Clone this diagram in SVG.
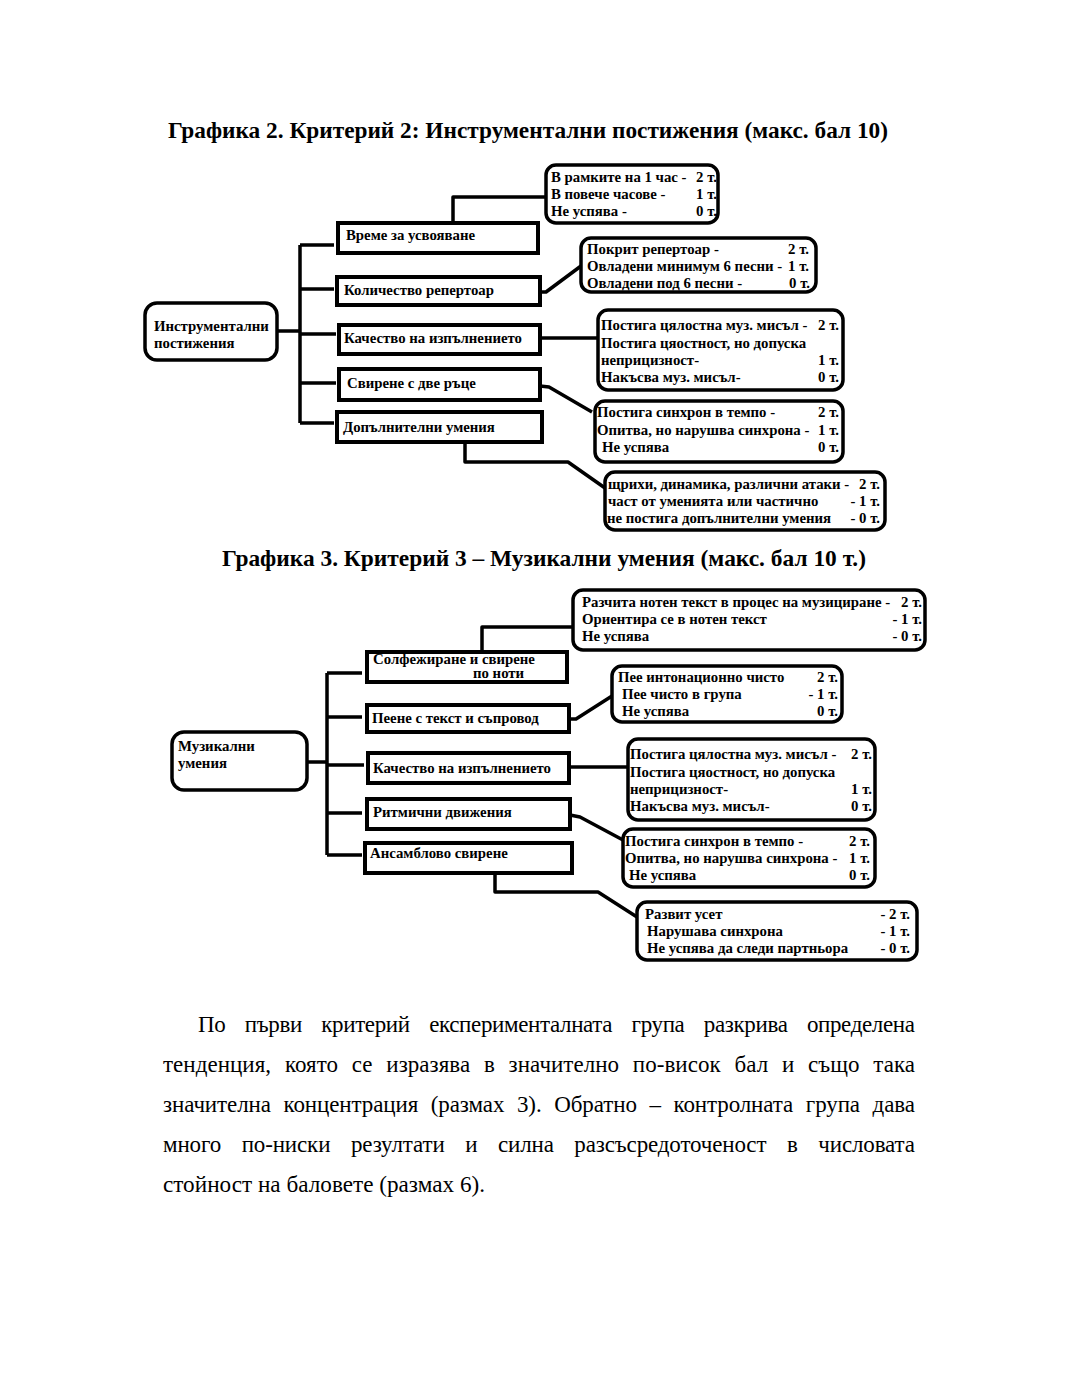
<svg xmlns="http://www.w3.org/2000/svg" width="1080" height="1397" viewBox="0 0 1080 1397">
<style>
.t{font-family:"Liberation Serif","Times New Roman",serif;font-weight:bold;fill:#000}
.title{font-size:23px}
.n{font-size:14.8px}
.e{text-anchor:end}
.p{font-family:"Liberation Serif","Times New Roman",serif;font-size:23px;fill:#000}
.box{fill:#fff;stroke:#000;stroke-width:4}
.rbox{fill:#fff;stroke:#000;stroke-width:3.5}
.c{fill:none;stroke:#000;stroke-width:3.5;stroke-linejoin:round}
</style>
<rect width="1080" height="1397" fill="#fff"/>
<text class="t title" x="168" y="138" textLength="720" lengthAdjust="spacingAndGlyphs">Графика 2. Критерий 2: Инструментални постижения (макс. бал 10)</text>
<text class="t title" x="222" y="566" textLength="644" lengthAdjust="spacingAndGlyphs">Графика 3. Критерий 3 – Музикални умения (макс. бал 10 т.)</text>

<g id="connectors1">
<path class="c" d="M278,331 H300 M300,245 V423 M300,245 H334 M300,289 H334 M300,334 H336 M300,383 H336 M300,423 H334"/>
<path class="c" d="M453,223 V197 H545"/>
<path class="c" d="M540,292 H546 L581,266"/>
<path class="c" d="M540,338 H598"/>
<path class="c" d="M540,386 L549,387 L592,412"/>
<path class="c" d="M465,442 V462 H568 L605,488"/>
</g>

<g id="root1"><rect class="rbox" x="145" y="303" width="132" height="57" rx="12"/>
<text class="t n" x="154" y="331">Инструментални</text><text class="t n" x="154" y="348">постижения</text></g>

<g id="c1a"><rect class="box" x="338" y="223" width="200" height="30"/><text class="t n" x="346" y="240">Време за усвояване</text></g>
<g id="c1b"><rect class="box" x="337" y="277" width="203" height="28"/><text class="t n" x="344" y="295">Количество репертоар</text></g>
<g id="c1c"><rect class="box" x="339" y="325" width="201" height="29"/><text class="t n" x="344" y="343">Качество на изпълнението</text></g>
<g id="c1d"><rect class="box" x="339" y="369" width="201" height="31"/><text class="t n" x="347" y="388">Свирене с две ръце</text></g>
<g id="c1e"><rect class="box" x="337" y="412" width="205" height="30"/><text class="t n" x="343" y="432">Допълнителни умения</text></g>

<g id="r1a"><rect class="rbox" x="546" y="165" width="172" height="58" rx="10"/>
<text class="t n" x="551" y="182">В рамките на 1 час -</text><text class="t n e" x="717" y="182">2 т.</text>
<text class="t n" x="551" y="199">В повече часове -</text><text class="t n e" x="717" y="199">1 т.</text>
<text class="t n" x="551" y="216">Не успява -</text><text class="t n e" x="717" y="216">0 т.</text></g>

<g id="r1b"><rect class="rbox" x="581" y="238" width="235" height="54" rx="10"/>
<text class="t n" x="587" y="254">Покрит репертоар -</text><text class="t n e" x="809" y="254">2 т.</text>
<text class="t n" x="587" y="271">Овладени минимум 6 песни -</text><text class="t n e" x="809" y="271">1 т.</text>
<text class="t n" x="587" y="288">Овладени под 6 песни -</text><text class="t n e" x="810" y="288">0 т.</text></g>

<g id="r1c"><rect class="rbox" x="598" y="310" width="245" height="80" rx="10"/>
<text class="t n" x="601" y="330">Постига цялостна муз. мисъл -</text><text class="t n e" x="839" y="330">2 т.</text>
<text class="t n" x="601" y="348">Постига цяостност, но допуска</text>
<text class="t n" x="601" y="365">неприцизност-</text><text class="t n e" x="839" y="365">1 т.</text>
<text class="t n" x="601" y="382">Накъсва муз. мисъл-</text><text class="t n e" x="839" y="382">0 т.</text></g>

<g id="r1d"><rect class="rbox" x="595" y="401" width="248" height="61" rx="10"/>
<text class="t n" x="597" y="417">Постига синхрон в темпо -</text><text class="t n e" x="839" y="417">2 т.</text>
<text class="t n" x="597" y="435">Опитва, но нарушва синхрона -</text><text class="t n e" x="839" y="435">1 т.</text>
<text class="t n" x="602" y="452">Не успява</text><text class="t n e" x="839" y="452">0 т.</text></g>

<g id="r1e"><rect class="rbox" x="605" y="472" width="280" height="58" rx="10"/>
<text class="t n" x="608" y="489">щрихи, динамика, различни атаки -</text><text class="t n e" x="880" y="489">2 т.</text>
<text class="t n" x="608" y="506">част от уменията или частично</text><text class="t n e" x="880" y="506">- 1 т.</text>
<text class="t n" x="607" y="523">не постига допълнителни умения</text><text class="t n e" x="880" y="523">-  0 т.</text></g>

<g id="connectors2">
<path class="c" d="M307,762 H327 M327,673 V855 M327,673 H362 M327,717 H362 M327,765 H364 M327,813 H362 M327,855 H362"/>
<path class="c" d="M482,652 V627 H573"/>
<path class="c" d="M569,719 H576 L612,696"/>
<path class="c" d="M569,767 H628"/>
<path class="c" d="M570,815 L580,817 L623,840"/>
<path class="c" d="M495,873 V892 H598 L637,917"/>
</g>

<g id="root2"><rect class="rbox" x="172" y="732" width="135" height="58" rx="12"/>
<text class="t n" x="178" y="751">Музикални</text><text class="t n" x="178" y="768">умения</text></g>

<g id="c2a"><rect class="box" x="367" y="652" width="200" height="30"/><text class="t n" x="373" y="664">Солфежиране и свирене</text><text class="t n" x="473" y="678">по ноти</text></g>
<g id="c2b"><rect class="box" x="367" y="705" width="202" height="27"/><text class="t n" x="372" y="723">Пеене с текст и съпровод</text></g>
<g id="c2c"><rect class="box" x="368" y="753" width="201" height="30"/><text class="t n" x="373" y="773">Качество на изпълнението</text></g>
<g id="c2d"><rect class="box" x="367" y="799" width="203" height="30"/><text class="t n" x="373" y="817">Ритмични движения</text></g>
<g id="c2e"><rect class="box" x="365" y="843" width="207" height="30"/><text class="t n" x="370" y="858">Ансамблово свирене</text></g>

<g id="r2a"><rect class="rbox" x="573" y="590" width="352" height="60" rx="10"/>
<text class="t n" x="582" y="607">Разчита нотен текст в процес на музициране -</text><text class="t n e" x="922" y="607">2 т.</text>
<text class="t n" x="582" y="624">Ориентира се в нотен текст</text><text class="t n e" x="922" y="624">- 1 т.</text>
<text class="t n" x="582" y="641">Не успява</text><text class="t n e" x="922" y="641">- 0 т.</text></g>

<g id="r2b"><rect class="rbox" x="612" y="666" width="230" height="56" rx="10"/>
<text class="t n" x="618" y="682">Пее интонационно чисто</text><text class="t n e" x="838" y="682">2 т.</text>
<text class="t n" x="622" y="699">Пее чисто в група</text><text class="t n e" x="838" y="699">- 1 т.</text>
<text class="t n" x="622" y="716">Не успява</text><text class="t n e" x="838" y="716">0 т.</text></g>

<g id="r2c"><rect class="rbox" x="628" y="739" width="247" height="81" rx="10"/>
<text class="t n" x="630" y="759">Постига цялостна муз. мисъл -</text><text class="t n e" x="872" y="759">2 т.</text>
<text class="t n" x="630" y="777">Постига цяостност, но допуска</text>
<text class="t n" x="630" y="794">неприцизност-</text><text class="t n e" x="872" y="794">1 т.</text>
<text class="t n" x="630" y="811">Накъсва муз. мисъл-</text><text class="t n e" x="872" y="811">0 т.</text></g>

<g id="r2d"><rect class="rbox" x="623" y="829" width="252" height="58" rx="10"/>
<text class="t n" x="625" y="846">Постига синхрон в темпо -</text><text class="t n e" x="870" y="846">2 т.</text>
<text class="t n" x="625" y="863">Опитва, но нарушва синхрона -</text><text class="t n e" x="870" y="863">1 т.</text>
<text class="t n" x="629" y="880">Не успява</text><text class="t n e" x="870" y="880">0 т.</text></g>

<g id="r2e"><rect class="rbox" x="637" y="902" width="280" height="58" rx="10"/>
<text class="t n" x="645" y="919">Развит усет</text><text class="t n e" x="910" y="919">- 2 т.</text>
<text class="t n" x="647" y="936">Нарушава синхрона</text><text class="t n e" x="910" y="936">- 1 т.</text>
<text class="t n" x="647" y="953">Не успява да следи партньора</text><text class="t n e" x="910" y="953">-  0 т.</text></g>

<g id="paragraph">
<text class="p" x="198" y="1032" word-spacing="14" textLength="717" lengthAdjust="spacing">По първи критерий експерименталната група разкрива определена</text>
<text class="p" x="163" y="1072" word-spacing="8" textLength="752" lengthAdjust="spacing">тенденция, която се изразява в значително по-висок бал и също така</text>
<text class="p" x="163" y="1112" word-spacing="7" textLength="752" lengthAdjust="spacing">значителна концентрация (размах 3). Обратно – контролната група дава</text>
<text class="p" x="163" y="1152" word-spacing="15" textLength="752" lengthAdjust="spacing">много по-ниски резултати и силна разсъсредоточеност в числовата</text>
<text class="p" x="163" y="1192" textLength="322" lengthAdjust="spacingAndGlyphs">стойност на баловете (размах 6).</text>
</g>
</svg>
